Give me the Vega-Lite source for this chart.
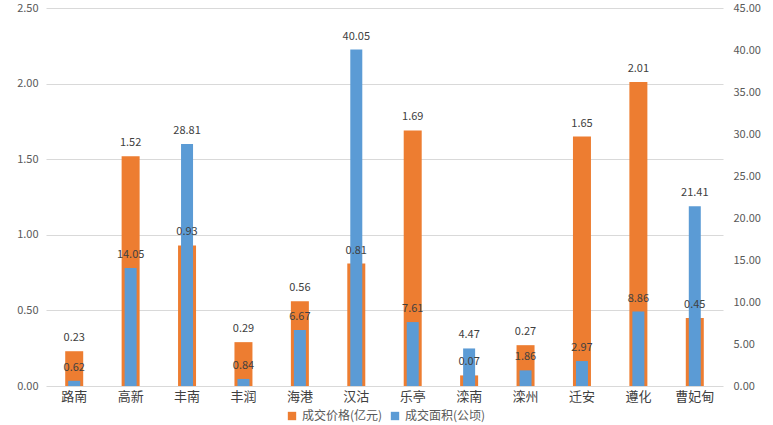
{
  "$schema": "https://vega.github.io/schema/vega-lite/v6.json",
  "width": 677,
  "height": 378,
  "autosize": {"type": "none"},
  "padding": {"left": 46, "top": 8, "right": 50, "bottom": 39},
  "background": "white",
  "config": {
    "view": {"stroke": null},
    "font": "Noto Sans CJK SC",
    "axis": {"labelFont": "Noto Sans CJK SC", "labelColor": "#595959", "labelFontSize": 11}
  },
  "data": {
    "values": [
      {"district": "路南", "price": 0.23, "area": 0.62},
      {"district": "高新", "price": 1.52, "area": 14.05},
      {"district": "丰南", "price": 0.93, "area": 28.81},
      {"district": "丰润", "price": 0.29, "area": 0.84},
      {"district": "海港", "price": 0.56, "area": 6.67},
      {"district": "汉沽", "price": 0.81, "area": 40.05},
      {"district": "乐亭", "price": 1.69, "area": 7.61},
      {"district": "滦南", "price": 0.07, "area": 4.47},
      {"district": "滦州", "price": 0.27, "area": 1.86},
      {"district": "迁安", "price": 1.65, "area": 2.97},
      {"district": "遵化", "price": 2.01, "area": 8.86},
      {"district": "曹妃甸", "price": 0.45, "area": 21.41}
    ]
  },
  "encoding": {
    "x": {
      "field": "district", "type": "nominal", "sort": null, "title": null,
      "scale": {"paddingInner": 0, "paddingOuter": 0},
      "axis": {"labelAngle": 0, "ticks": false, "domain": false, "labelFontSize": 13, "labelPadding": 4, "labelColor": "#404040"}
    }
  },
  "layer": [
    {
      "mark": {"type": "bar", "size": 18},
      "encoding": {
        "y": {
          "field": "price", "type": "quantitative", "title": null,
          "scale": {"domain": [0, 2.5], "nice": false},
          "axis": {"orient": "left", "values": [0, 0.5, 1, 1.5, 2, 2.5], "format": ".2f", "domain": false, "ticks": false, "gridColor": "#d9d9d9", "labelPadding": 8}
        },
        "color": {
          "datum": "成交价格(亿元)",
          "scale": {"domain": ["成交价格(亿元)", "成交面积(公顷)"], "range": ["#ED7D31", "#5B9BD5"]},
          "legend": {"orient": "none", "legendX": 240, "legendY": 402, "direction": "horizontal", "title": null, "symbolType": "square", "symbolSize": 70, "labelFontSize": 12, "labelColor": "#595959", "columnPadding": 6, "labelOffset": 4, "symbolOpacity": 1}
        }
      }
    },
    {
      "mark": {"type": "bar", "size": 12},
      "encoding": {
        "y": {
          "field": "area", "type": "quantitative", "title": null,
          "scale": {"domain": [0, 45], "nice": false},
          "axis": {"orient": "right", "values": [0, 5, 10, 15, 20, 25, 30, 35, 40, 45], "format": ".2f", "domain": false, "ticks": false, "grid": false, "labelPadding": 10}
        },
        "color": {"datum": "成交面积(公顷)"}
      }
    },
    {
      "mark": {"type": "text", "baseline": "bottom", "dy": -8, "fontSize": 11, "color": "#404040"},
      "encoding": {
        "y": {"field": "price", "type": "quantitative", "scale": {"domain": [0, 2.5], "nice": false}, "axis": null},
        "text": {"field": "price", "type": "quantitative", "format": ".2f"}
      }
    },
    {
      "mark": {"type": "text", "baseline": "bottom", "dy": -8, "fontSize": 11, "color": "#404040"},
      "encoding": {
        "y": {"field": "area", "type": "quantitative", "scale": {"domain": [0, 45], "nice": false}, "axis": null},
        "text": {"field": "area", "type": "quantitative", "format": ".2f"}
      }
    }
  ],
  "resolve": {"scale": {"y": "independent"}}
}
